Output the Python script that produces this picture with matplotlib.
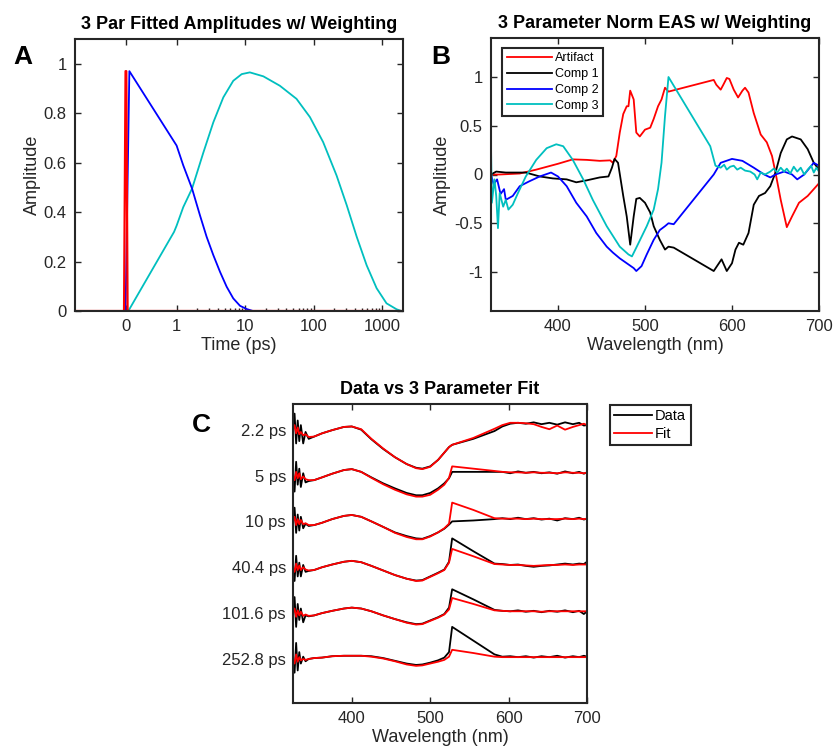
import numpy as np
import matplotlib
matplotlib.use('Agg')
import matplotlib.pyplot as plt
from matplotlib.ticker import FormatStrFormatter

plt.rcParams['font.family'] = ['Liberation Sans', 'DejaVu Sans']
plt.rcParams['axes.unicode_minus'] = False

# ---- panel A: fitted amplitudes vs time (ps) ----
t_artifact = [-1, -0.035, -0.005, 0.01, 0.035, 2000]
a_artifact = [0, 0, 0.97, 0.97, 0, 0]

t_comp2 = [-1, -0.005, 0.07, 1.0, 1.25, 1.68, 2.19, 2.74, 3.43, 4.3, 5.37, 6.7, 8.4, 10.5, 13, 2000]
a_comp2 = [0, 0, 0.97, 0.669, 0.589, 0.495, 0.387, 0.30, 0.226, 0.158, 0.098, 0.051, 0.021, 0.008, 0, 0]

t_comp3 = [-1, 0.05, 0.95, 1.0, 1.25, 1.68, 2.45, 3.43, 4.8, 6.7, 8.9, 11.7, 18.4, 32, 56, 88, 137,
           215, 303, 423, 590, 825, 1150, 1610, 1900, 2000]
a_comp3 = [0, 0, 0.32, 0.345, 0.42, 0.495, 0.64, 0.763, 0.864, 0.931, 0.958, 0.965, 0.949, 0.911,
           0.858, 0.784, 0.683, 0.548, 0.427, 0.30, 0.185, 0.092, 0.031, 0.007, 0, 0]

time_ticks = [0, 1, 10, 100, 1000]
time_minor = [2, 3, 4, 5, 6, 7, 8, 9, 20, 30, 40, 50, 60, 70, 80, 90,
              200, 300, 400, 500, 600, 700, 800, 900]

# ---- panel B: normalised EAS ----
wl_art = [323, 333, 356, 375, 400, 417, 433, 448, 460, 463, 467, 471, 475, 479, 481, 483, 487, 490, 494,
          500, 506, 510, 515, 519, 523, 527, 579, 582, 587, 590, 594, 597, 602, 607, 612, 615, 619, 625,
          633, 640, 646, 650, 656, 662, 663, 669, 677, 687, 700]
eas_art = [0.0, 0.0, 0.01, 0.05, 0.11, 0.155, 0.15, 0.14, 0.145, 0.12, 0.19, 0.43, 0.62, 0.70, 0.70, 0.86,
           0.77, 0.43, 0.39, 0.46, 0.48, 0.57, 0.70, 0.77, 0.89, 0.85, 0.97, 0.92, 0.87, 0.92, 0.99, 0.98,
           0.87, 0.79, 0.86, 0.89, 0.84, 0.63, 0.41, 0.33, 0.19, 0.02, -0.26, -0.50, -0.54, -0.43, -0.29,
           -0.22, -0.09]

wl_c1 = [323, 329, 340, 363, 379, 394, 410, 421, 433, 448, 458, 462, 465, 469, 475, 479, 483, 487, 490,
         494, 500, 506, 510, 517, 523, 527, 533, 579, 585, 588, 594, 600, 604, 608, 613, 619, 625, 631,
         638, 644, 650, 656, 663, 669, 679, 687, 694, 700]
eas_c1 = [0.0, 0.03, 0.02, 0.02, -0.02, -0.04, -0.05, -0.08, -0.06, -0.03, -0.02, 0.07, 0.16, 0.12, -0.22,
          -0.43, -0.72, -0.43, -0.25, -0.24, -0.29, -0.39, -0.53, -0.67, -0.77, -0.74, -0.75, -0.99, -0.91,
          -0.87, -0.99, -0.91, -0.77, -0.70, -0.72, -0.60, -0.31, -0.22, -0.19, -0.12, 0.02, 0.22, 0.36,
          0.39, 0.36, 0.26, 0.12, 0.05]

wl_c2 = [323, 326, 330, 334, 338, 340, 348, 356, 367, 379, 392, 400, 410, 421, 433, 444, 456, 463, 471,
         479, 487, 490, 496, 502, 510, 517, 523, 527, 533, 579, 587, 600, 612, 625, 637, 644, 650, 660,
         669, 675, 683, 694, 700]
eas_c2 = [0.0, -0.1, -0.05, -0.2, -0.15, -0.26, -0.22, -0.12, -0.07, -0.02, 0.02, -0.02, -0.12, -0.29,
          -0.43, -0.60, -0.74, -0.80, -0.86, -0.91, -0.96, -0.99, -0.94, -0.82, -0.67, -0.57, -0.53, -0.50,
          -0.51, 0.0, 0.12, 0.16, 0.14, 0.07, 0.0, -0.03, 0.0, 0.03, 0.0, -0.05, 0.0, 0.12, 0.09]

wl_c3 = [323, 324, 327, 329, 331, 333, 337, 340, 343, 348, 354, 363, 375, 387, 398, 406, 417, 429, 440,
         456, 471, 481, 485, 490, 502, 510, 515, 519, 523, 527, 575, 581, 587, 591, 594, 598, 602, 606,
         610, 615, 621, 626, 629, 633, 638, 644, 648, 652, 656, 660, 663, 667, 671, 675, 679, 683, 687,
         691, 694, 697, 700]
eas_c3 = [0.29, -0.29, -0.05, -0.22, -0.55, -0.19, -0.33, -0.26, -0.36, -0.31, -0.19, -0.02, 0.15, 0.27,
          0.31, 0.29, 0.15, -0.05, -0.26, -0.53, -0.74, -0.82, -0.84, -0.75, -0.53, -0.36, -0.15, 0.12,
          0.60, 1.0, 0.29, 0.09, 0.07, 0.10, 0.05, 0.08, 0.09, 0.05, 0.07, 0.04, 0.03, 0.0, -0.05, 0.02,
          0.0, 0.03, 0.06, 0.02, 0.07, 0.03, 0.06, 0.01, 0.08, 0.03, 0.07, 0.0, 0.05, 0.09, 0.02, 0.07, 0.03]

# ---- panel C: data vs fit at selected delays ----
delay_labels = ['2.2 ps', '5 ps', '10 ps', '40.4 ps', '101.6 ps', '252.8 ps']
wl_c = [325, 327, 329, 331, 333, 335, 338, 341, 345, 352, 362, 375, 390, 400, 412, 425, 440, 455, 470, 482,
        490, 500, 510, 518, 524, 528, 555, 582, 592, 602, 612, 622, 632, 642, 652, 662, 672, 682, 690, 696, 700]

data_22 = [0.0, 0.35, -0.3, 0.2, -0.25, 0.1, -0.3, -0.05, -0.2, -0.15, -0.08, -0.01, 0.06, 0.07, 0.0, -0.21,
           -0.42, -0.6, -0.75, -0.83, -0.85, -0.8, -0.66, -0.5, -0.38, -0.33, -0.2, -0.03, 0.07, 0.13, 0.15,
           0.13, 0.16, 0.12, 0.15, 0.11, 0.16, 0.12, 0.15, 0.09, 0.1]
fit_22 = [0.0, 0.1, -0.08, 0.05, -0.1, -0.05, -0.12, -0.1, -0.16, -0.15, -0.08, -0.01, 0.06, 0.07, 0.01, -0.2,
          -0.41, -0.6, -0.75, -0.84, -0.86, -0.81, -0.66, -0.5, -0.38, -0.33, -0.18, 0.02, 0.1, 0.15, 0.15,
          0.14, 0.12, 0.06, 0.01, 0.09, 0.0, 0.06, 0.1, 0.13, 0.1]

data_5 = [0.0, -0.35, 0.3, -0.2, 0.15, -0.25, 0.05, -0.15, -0.12, -0.1, -0.04, 0.04, 0.12, 0.14, 0.08, -0.04,
          -0.17, -0.28, -0.38, -0.43, -0.43, -0.38, -0.28, -0.17, -0.06, 0.08, 0.08, 0.08, 0.08, 0.05, 0.09,
          0.06, 0.08, 0.05, 0.07, 0.04, 0.09, 0.05, 0.08, 0.04, 0.07]
fit_5 = [0.0, -0.1, 0.08, -0.06, 0.05, -0.08, -0.02, -0.08, -0.1, -0.1, -0.04, 0.04, 0.12, 0.14, 0.08, -0.05,
         -0.19, -0.31, -0.41, -0.46, -0.46, -0.42, -0.31, -0.2, -0.05, 0.2, 0.15, 0.1, 0.08, 0.07, 0.07,
         0.06, 0.07, 0.06, 0.06, 0.05, 0.07, 0.06, 0.06, 0.05, 0.06]

data_10 = [0.0, 0.3, -0.25, 0.15, -0.2, 0.1, -0.15, -0.05, -0.1, -0.08, -0.03, 0.05, 0.12, 0.14, 0.1, 0.0,
           -0.12, -0.24, -0.32, -0.37, -0.38, -0.32, -0.24, -0.16, -0.07, 0.0, 0.02, 0.05, 0.07, 0.05, 0.08,
           0.05, 0.07, 0.04, 0.06, 0.02, 0.07, 0.05, 0.08, 0.04, 0.06]
fit_10 = [0.0, 0.1, -0.08, 0.05, -0.06, 0.03, -0.06, -0.04, -0.08, -0.08, -0.03, 0.05, 0.12, 0.14, 0.1, 0.0,
          -0.12, -0.25, -0.34, -0.39, -0.39, -0.33, -0.24, -0.15, -0.05, 0.41, 0.25, 0.07, 0.06, 0.06, 0.06,
          0.05, 0.06, 0.05, 0.05, 0.05, 0.06, 0.05, 0.06, 0.05, 0.06]

data_40 = [0.0, -0.3, 0.25, -0.2, 0.1, -0.2, 0.05, -0.1, -0.08, -0.06, 0.0, 0.06, 0.12, 0.14, 0.11, 0.03,
           -0.07, -0.17, -0.25, -0.29, -0.28, -0.2, -0.12, -0.05, 0.12, 0.63, 0.35, 0.08, 0.07, 0.05, 0.06,
           0.03, 0.01, 0.03, 0.04, 0.06, 0.08, 0.06, 0.08, 0.07, 0.12]
fit_40 = [0.0, -0.1, 0.08, -0.06, 0.04, -0.06, 0.0, -0.05, -0.07, -0.06, 0.0, 0.06, 0.12, 0.14, 0.11, 0.03,
          -0.07, -0.17, -0.25, -0.3, -0.29, -0.21, -0.13, -0.06, 0.1, 0.4, 0.24, 0.07, 0.06, 0.05, 0.05,
          0.04, 0.03, 0.04, 0.05, 0.05, 0.06, 0.05, 0.06, 0.06, 0.06]

data_101 = [0.0, 0.35, -0.3, 0.2, -0.15, 0.1, -0.2, -0.05, -0.07, -0.05, 0.0, 0.05, 0.1, 0.12, 0.1, 0.04,
            -0.05, -0.13, -0.2, -0.24, -0.23, -0.16, -0.09, -0.02, 0.12, 0.52, 0.3, 0.07, 0.05, 0.04, 0.06,
            0.03, 0.05, 0.02, 0.05, 0.03, 0.06, 0.02, 0.05, -0.02, 0.04]
fit_101 = [0.0, 0.1, -0.08, 0.06, -0.05, 0.03, -0.06, -0.03, -0.06, -0.05, 0.0, 0.05, 0.1, 0.12, 0.1, 0.04,
           -0.05, -0.13, -0.21, -0.25, -0.24, -0.17, -0.1, -0.03, 0.08, 0.33, 0.2, 0.06, 0.05, 0.04, 0.04,
           0.04, 0.04, 0.03, 0.04, 0.04, 0.04, 0.04, 0.04, 0.04, 0.04]

data_252 = [0.0, -0.3, 0.35, -0.25, 0.15, -0.1, 0.05, -0.05, 0.0, 0.02, 0.03, 0.06, 0.07, 0.07, 0.07, 0.06,
            0.02, -0.04, -0.1, -0.13, -0.12, -0.08, -0.03, 0.03, 0.15, 0.7, 0.4, 0.1, 0.05, 0.06, 0.04,
            0.06, 0.03, 0.06, 0.04, 0.07, 0.03, 0.06, 0.04, 0.07, 0.05]
fit_252 = [0.0, -0.1, 0.1, -0.06, 0.04, -0.03, 0.0, -0.02, 0.0, 0.02, 0.03, 0.06, 0.07, 0.07, 0.07, 0.05,
           0.01, -0.05, -0.12, -0.15, -0.14, -0.1, -0.06, -0.02, 0.05, 0.2, 0.13, 0.05, 0.04, 0.04, 0.04,
           0.04, 0.04, 0.04, 0.04, 0.04, 0.04, 0.04, 0.04, 0.04, 0.04]

data_traces = [data_22, data_5, data_10, data_40, data_101, data_252]
fit_traces = [fit_22, fit_5, fit_10, fit_40, fit_101, fit_252]

RED = '#ff0000'
BLUE = '#0000ff'
CYAN = '#00bfbf'
INK = '#262626'
LOG_GAIN = 1.35  # width of one decade relative to the linear 0..1 stretch


def t_forward(t):
    t = np.asarray(t, dtype=float)
    return np.where(t <= 1, t, 1 + LOG_GAIN * np.log10(np.maximum(t, 1)))


def t_inverse(u):
    u = np.asarray(u, dtype=float)
    return np.where(u <= 1, u, 10 ** ((np.minimum(u, 20) - 1) / LOG_GAIN))


def style_axes(ax):
    for sp in ax.spines.values():
        sp.set_linewidth(1.5)
        sp.set_color(INK)
    ax.tick_params(direction='in', length=4, width=1, colors=INK, labelsize=12,
                   top=True, right=True, pad=6)


fig = plt.figure(figsize=(8.35, 7.55), dpi=100)
W, H = 835, 755


def add_axes_px(left, top, right, bottom):
    return fig.add_axes([left / W, 1 - bottom / H, (right - left) / W, (bottom - top) / H])


# A
ax_a = add_axes_px(75, 39, 403, 311)
ax_a.set_xscale('function', functions=(t_forward, t_inverse))
ax_a.plot(t_comp3, a_comp3, color=CYAN, lw=1.3)
ax_a.plot(t_comp2, a_comp2, color=BLUE, lw=1.3)
ax_a.plot(t_artifact, a_artifact, color=RED, lw=1.6)
ax_a.set_xlim(-1, 2000)
ax_a.set_ylim(0, 1.1)
ax_a.set_xticks(time_ticks)
ax_a.set_xticklabels([str(v) for v in time_ticks])
ax_a.set_xticks(time_minor, minor=True)
ax_a.set_yticks([0, 0.2, 0.4, 0.6, 0.8, 1])
ax_a.yaxis.set_major_formatter(FormatStrFormatter('%g'))
style_axes(ax_a)
ax_a.tick_params(which='minor', direction='in', length=2, width=1, colors=INK, top=False)
ax_a.set_xlabel('Time (ps)', fontsize=13, color=INK, labelpad=2)
ax_a.set_ylabel('Amplitude', fontsize=13, color=INK, labelpad=2)
ax_a.set_title('3 Par Fitted Amplitudes w/ Weighting', fontsize=13, fontweight='bold', pad=7)

# B
ax_b = add_axes_px(491, 38, 819, 311)
ax_b.plot(wl_art, eas_art, color=RED, lw=1.3, label='Artifact')
ax_b.plot(wl_c1, eas_c1, color='black', lw=1.3, label='Comp 1')
ax_b.plot(wl_c2, eas_c2, color=BLUE, lw=1.3, label='Comp 2')
ax_b.plot(wl_c3, eas_c3, color=CYAN, lw=1.3, label='Comp 3')
ax_b.set_xlim(323, 700)
ax_b.set_ylim(-1.4, 1.4)
ax_b.set_xticks([400, 500, 600, 700])
ax_b.set_yticks([-1, -0.5, 0, 0.5, 1])
ax_b.yaxis.set_major_formatter(FormatStrFormatter('%g'))
style_axes(ax_b)
ax_b.set_xlabel('Wavelength (nm)', fontsize=13, color=INK, labelpad=2)
ax_b.set_ylabel('Amplitude', fontsize=13, color=INK, labelpad=2)
ax_b.set_title('3 Parameter Norm EAS w/ Weighting', fontsize=13, fontweight='bold', pad=7)
leg_b = ax_b.legend(loc='upper left', bbox_to_anchor=(0.034, 0.963), fontsize=9, handlelength=3.6,
                    handletextpad=0.3, labelspacing=0.3, borderpad=0.35, fancybox=False,
                    framealpha=1, edgecolor=INK, borderaxespad=0)
leg_b.get_frame().set_linewidth(1.5)

# C
ax_c = add_axes_px(293, 404, 587, 703)
offsets = [-i for i in range(len(delay_labels))]
for off, d, f in zip(offsets, data_traces, fit_traces):
    ax_c.plot(wl_c, np.array(d) + off, color='black', lw=1.3,
              label='Data' if off == 0 else None)
    ax_c.plot(wl_c, np.array(f) + off, color=RED, lw=1.3,
              label='Fit' if off == 0 else None)
ax_c.set_xlim(325, 700)
ax_c.set_ylim(-5.96, 0.56)
ax_c.set_xticks([400, 500, 600, 700])
ax_c.set_yticks(offsets)
ax_c.set_yticklabels(delay_labels)
style_axes(ax_c)
ax_c.tick_params(axis='y', length=0, right=False, pad=5)
ax_c.set_xlabel('Wavelength (nm)', fontsize=13, color=INK, labelpad=2)
ax_c.set_title('Data vs 3 Parameter Fit', fontsize=13, fontweight='bold', pad=7)
leg_c = ax_c.legend(loc='upper left', bbox_to_anchor=(610 / W, 1 - 405 / H),
                    bbox_transform=fig.transFigure, fontsize=10.5, handlelength=2.6,
                    handletextpad=0.2, labelspacing=0.25, borderpad=0.3, fancybox=False,
                    framealpha=1, edgecolor=INK, borderaxespad=0)
leg_c.get_frame().set_linewidth(1.5)

# panel letters
for letter, x, y in [('A', 13, 57), ('B', 431, 57), ('C', 192, 425)]:
    fig.text(x / W, 1 - y / H, letter, fontsize=19, fontweight='bold', va='center', ha='left')

fig.savefig('out.png', dpi=100)
